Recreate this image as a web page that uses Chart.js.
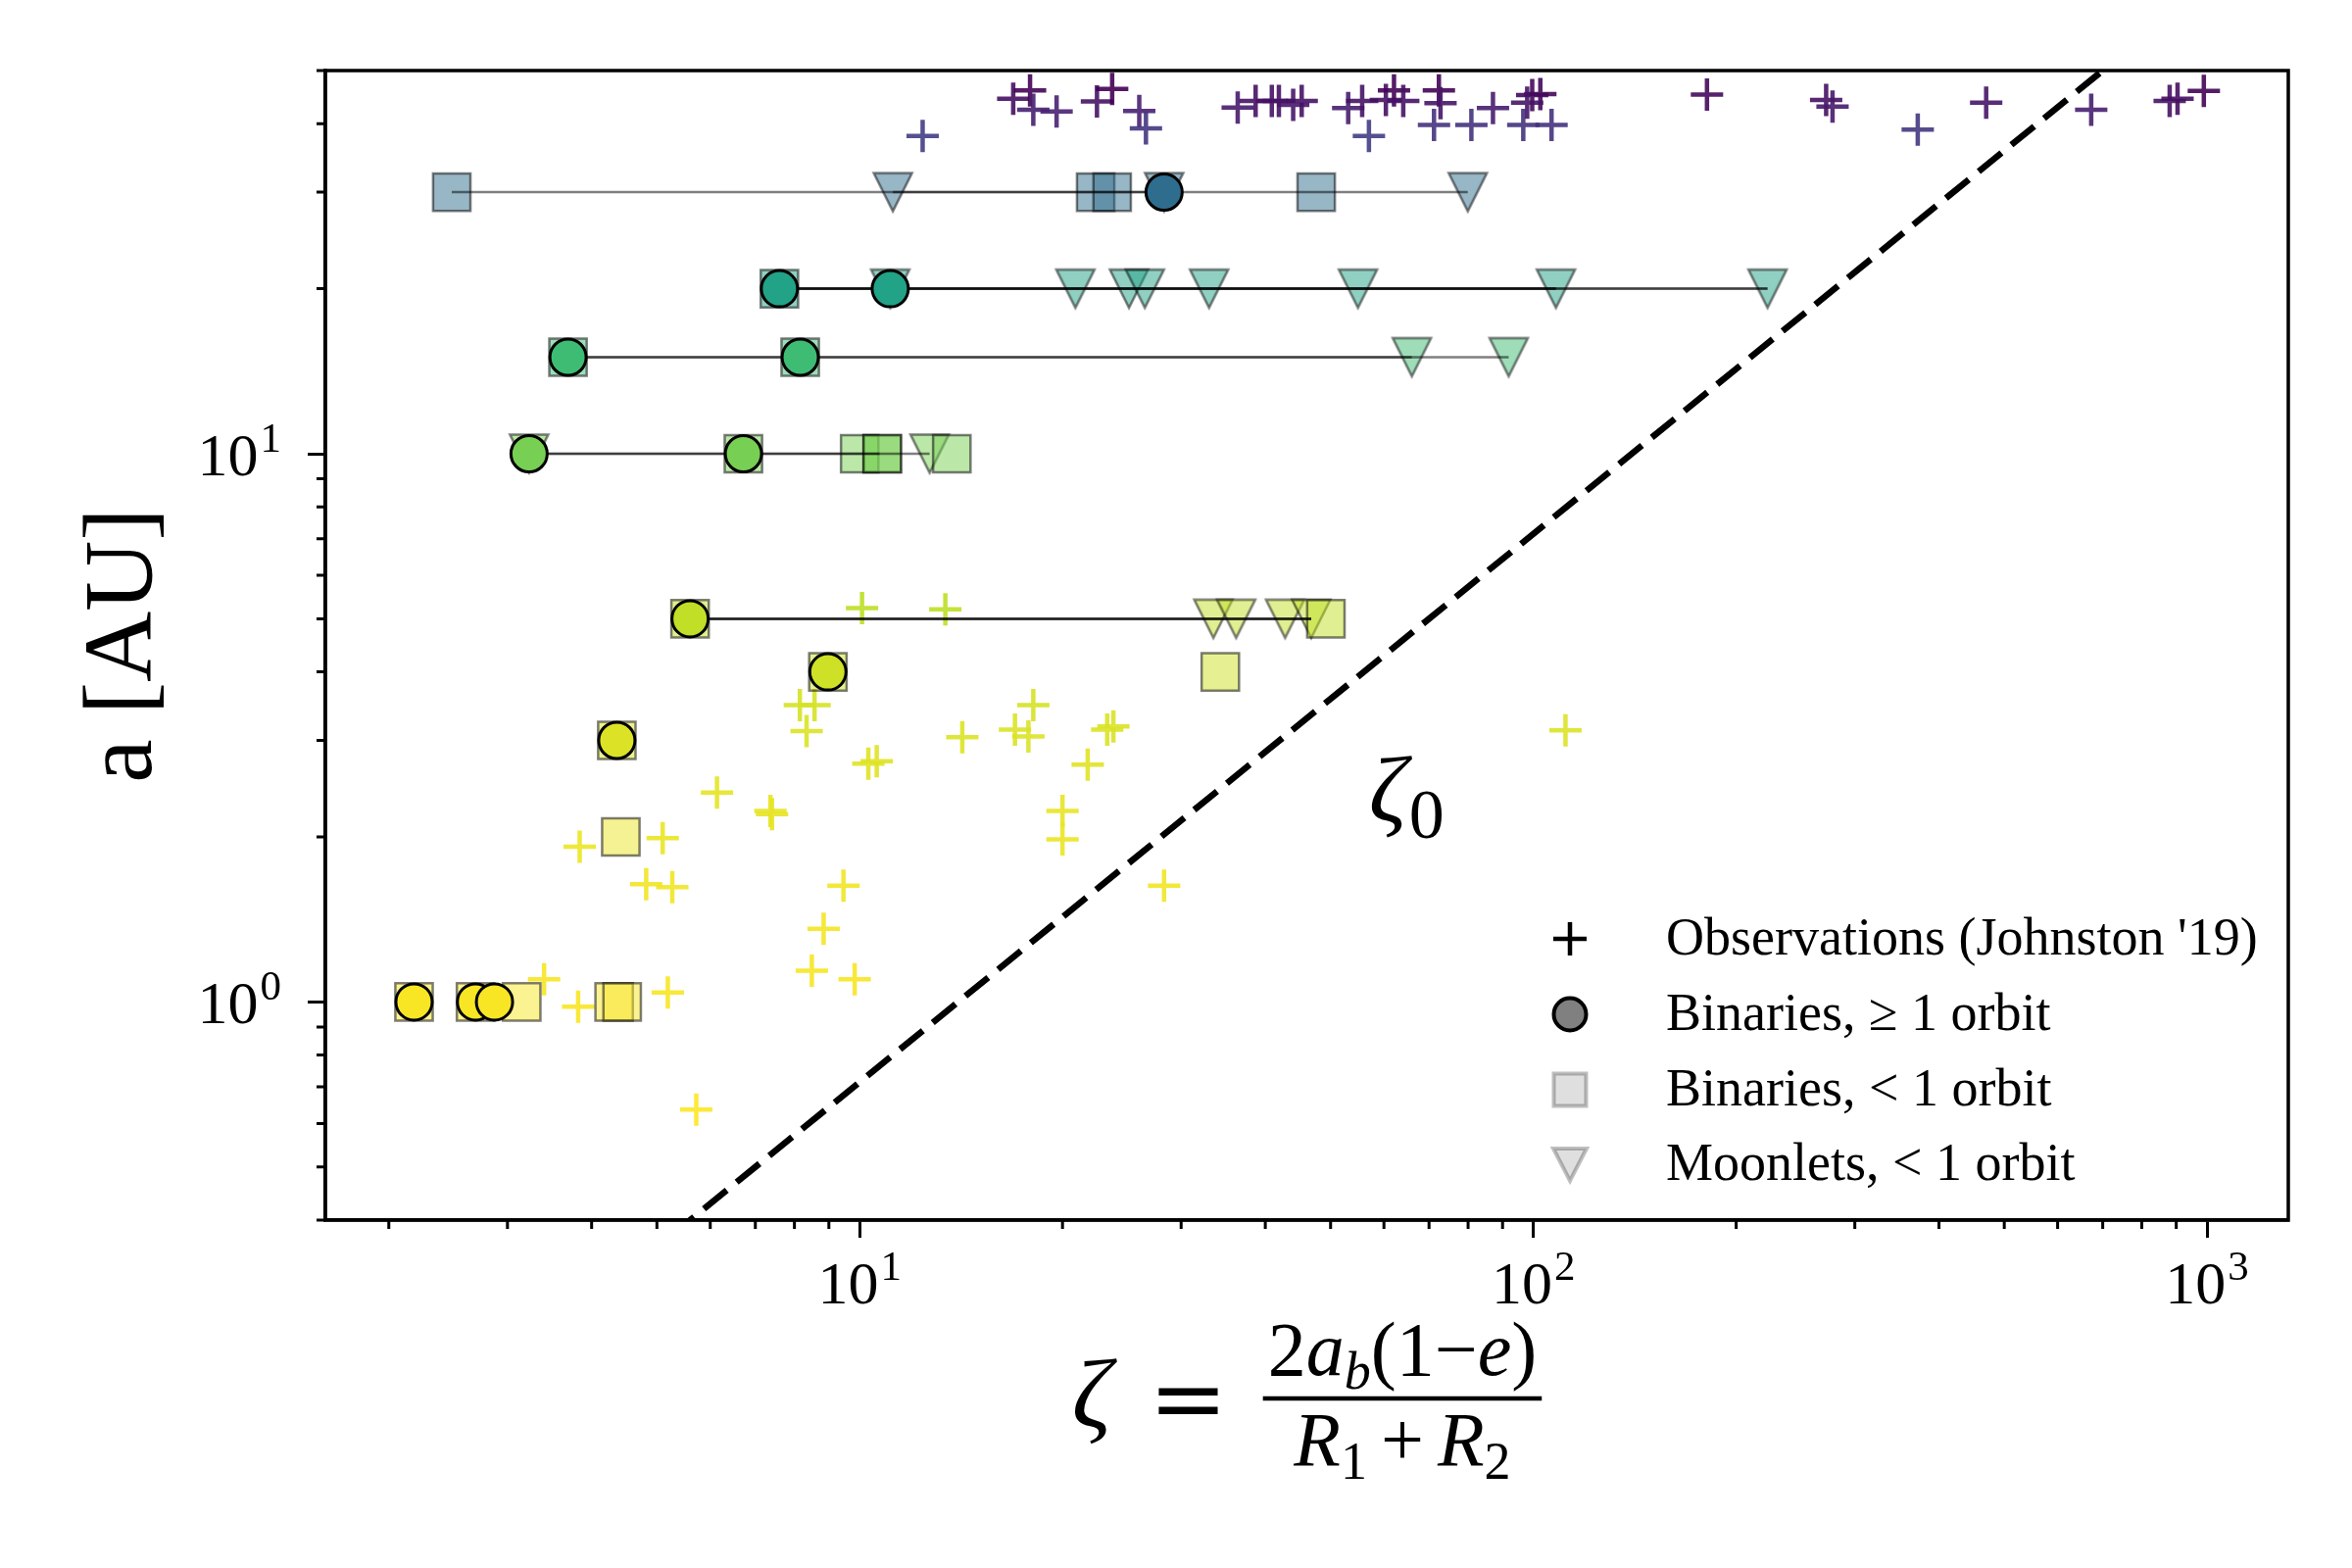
<!DOCTYPE html>
<html>
<head>
<meta charset="utf-8">
<script src="https://cdn.jsdelivr.net/npm/chart.js@4.4.1/dist/chart.umd.min.js"></script>
<style>
  html, body { margin: 0; padding: 0; background: #fff; }
  #wrap { width: 2400px; height: 1600px; }
  canvas { width: 2400px; height: 1600px; }
</style>
</head>
<body>
<div id="wrap"><canvas id="chart" width="2400" height="1600"></canvas></div>
<script>
// observed systems (Johnston '19): zeta and a [AU]
const obsZeta = [12.4, 16.9, 17.9, 18.1, 19.6, 22.5, 23.7, 26.0, 26.6, 36.4,
                 38.7, 40.9, 41.9, 44.0, 45.3, 53.1, 55.7, 57.0, 60.4, 62.1,
                 64.1, 72.4, 72.8, 71.2, 80.9, 87.1, 96.6, 99.6, 102.4, 97.9,
                 106.4, 181, 272, 278, 372, 470, 673, 880, 904, 989,
                 3.84, 5.10, 4.82, 5.27, 3.40, 3.82, 5.19, 5.72,
                 10.08, 13.4, 8.15, 8.57, 8.34, 18.1, 14.2, 17.0, 17.8, 23.3,
                 23.8, 21.8, 10.3, 10.6, 6.14, 7.37, 7.41, 20.0, 20.0, 28.3,
                 9.46, 8.84, 8.49, 9.83, 111.6];
const obsA = [38.0, 44.4, 46.0, 42.4, 42.1, 43.9, 46.3, 42.2, 39.2, 42.8,
              44.0, 44.0, 44.0, 43.3, 44.0, 42.7, 44.0, 38.0, 44.2, 46.0,
              44.0, 46.0, 43.6, 39.8, 39.8, 42.7, 39.8, 45.1, 45.3, 43.7,
              39.8, 45.2, 44.2, 43.0, 39.0, 43.7, 42.4, 44.0, 44.4, 45.9,
              1.92, 1.99, 1.64, 1.62, 1.10, 0.98, 1.04, 0.636,
              5.23, 5.20, 3.48, 3.48, 3.12, 3.48, 3.04, 3.14, 3.05, 3.14,
              3.18, 2.71, 2.72, 2.75, 2.41, 2.23, 2.20, 2.23, 1.98, 1.63,
              1.63, 1.36, 1.14, 1.10, 3.13];

// binaries, >= 1 orbit
const binOrbitZeta = [28.3, 7.6, 11.1, 3.69, 8.16, 3.23, 6.72, 5.6, 8.97, 4.36, 2.18, 2.69, 2.87];
const binOrbitA    = [30, 20, 20, 15, 15, 10, 10, 5, 4, 3, 1, 1, 1];

// binaries, < 1 orbit
const binShortZeta = [2.48, 22.4, 23.7, 47.6, 7.6, 3.69, 8.16, 6.72, 10.0, 10.8, 10.8, 13.7,
                      5.6, 49.2, 8.97, 34.3, 4.36, 4.42, 2.18, 2.69, 3.15, 4.32, 4.44];
const binShortA    = [30, 30, 30, 30, 20, 15, 15, 10, 10, 10, 10, 10,
                      5, 5, 4, 4, 3, 2, 1, 1, 1, 1, 1];

// moonlets, < 1 orbit
const moonZeta = [11.2, 28.3, 79.9, 11.1, 20.9, 25.1, 26.5, 33.0, 54.9, 108, 222.6,
                  66.0, 91.9, 3.23, 12.7, 33.5, 36.2, 42.8, 46.8];
const moonA    = [30, 30, 30, 20, 20, 20, 20, 20, 20, 20, 20,
                  15, 15, 10, 10, 5, 5, 5, 5];

// thin spans joining each run
const spanA     = [30, 30, 20, 20, 20, 20, 15, 15, 10, 10, 5, 5, 5];
const spanStart = [2.48, 11.2, 7.6, 7.6, 7.6, 7.6, 3.69, 3.69, 3.23, 3.23, 5.6, 5.6, 5.6];
const spanEnd   = [79.9, 28.3, 222.6, 222.6, 108, 108, 91.9, 66.0, 12.7, 10.7, 46.8, 46.8, 46.8];

const zeta0Ratio = 14;          // dashed line: zeta = 14 a
const zeta0A = [0.3, 60];
const zetaLimits = [1.61, 1320];
const aLimits = [0.4, 50];
const xDecades = [10, 100, 1000];
const yDecades = [1, 10];

const SERIF = '"Liberation Serif", "Times New Roman", serif';
Chart.defaults.font.family = SERIF;
Chart.defaults.color = '#000';

// viridis, reversed over a
const VIR = ['#440154', '#482475', '#414487', '#355f8d', '#2a788e', '#21918c',
             '#22a884', '#44bf70', '#7ad151', '#bddf26', '#fde725'];
const allA = obsA.concat(binOrbitA, binShortA, moonA);
const aMin = Math.min(...allA), aMax = Math.max(...allA);

function hex(h) {
  return [parseInt(h.slice(1, 3), 16), parseInt(h.slice(3, 5), 16), parseInt(h.slice(5, 7), 16)];
}
function colourFor(a, alpha) {
  let t = 1 - (a - aMin) / (aMax - aMin);
  t = Math.max(0, Math.min(1, t)) * 10;
  const i = Math.min(9, Math.floor(t)), f = t - i;
  const c0 = hex(VIR[i]), c1 = hex(VIR[i + 1]);
  const c = c0.map((v, k) => Math.round(v + (c1[k] - v) * f));
  return 'rgba(' + c[0] + ',' + c[1] + ',' + c[2] + ',' + alpha + ')';
}

// downward triangles like matplotlib 'v'
const triCache = {};
function triImage(a) {
  if (triCache[a]) return triCache[a];
  const c = document.createElement('canvas');
  c.width = 48; c.height = 48;
  const g = c.getContext('2d');
  g.beginPath();
  g.moveTo(4.5, 4.5); g.lineTo(43.5, 4.5); g.lineTo(24, 43.5); g.closePath();
  g.fillStyle = colourFor(a, 0.5);
  g.fill();
  g.lineWidth = 2.5;
  g.strokeStyle = 'rgba(0,0,0,0.5)';
  g.stroke();
  triCache[a] = c;
  return c;
}

function logTicks(lim) {
  const out = [];
  for (let e = Math.floor(Math.log10(lim[0])); e <= Math.ceil(Math.log10(lim[1])); e++) {
    for (let m = 1; m <= 9; m++) {
      const v = m * Math.pow(10, e);
      if (v >= lim[0] * 0.999 && v <= lim[1] * 1.001) out.push({ value: v, major: m === 1 });
    }
  }
  return out;
}

const pts = (xs, ys) => xs.map((x, i) => ({ x: x, y: ys[i] }));

const datasets = [
  {
    label: "Observations (Johnston '19)",
    data: pts(obsZeta, obsA),
    pointStyle: 'cross',
    pointRadius: 16.5,
    pointBorderWidth: 4.5,
    pointBorderColor: c => c.dataIndex === undefined ? '#000' : colourFor(obsA[c.dataIndex], 0.9),
    order: 5
  },
  {
    label: 'Binaries, \u2265 1 orbit',
    data: pts(binOrbitZeta, binOrbitA),
    pointStyle: 'circle',
    pointRadius: 18.5,
    pointBorderWidth: 3,
    pointBorderColor: '#000',
    pointBackgroundColor: c => c.dataIndex === undefined ? '#888' : colourFor(binOrbitA[c.dataIndex], 1),
    order: 2
  },
  {
    label: 'Binaries, < 1 orbit',
    data: pts(binShortZeta, binShortA),
    pointStyle: 'rect',
    pointRadius: 27,
    pointBorderWidth: 2.5,
    pointBorderColor: 'rgba(0,0,0,0.5)',
    pointBackgroundColor: c => c.dataIndex === undefined ? '#ddd' : colourFor(binShortA[c.dataIndex], 0.5),
    order: 4
  },
  {
    label: 'Moonlets, < 1 orbit',
    data: pts(moonZeta, moonA),
    pointStyle: c => c.dataIndex === undefined ? 'triangle' : triImage(moonA[c.dataIndex]),
    pointRadius: 20,
    order: 4
  },
  {
    label: 'zeta0',
    data: zeta0A.map(a => ({ x: a * zeta0Ratio, y: a })),
    showLine: true,
    pointRadius: 0,
    borderColor: '#000',
    borderWidth: 6.5,
    borderDash: [30, 13],
    clip: 0,
    order: 1
  }
];

spanA.forEach((a, i) => {
  datasets.push({
    label: 'span',
    data: [{ x: spanStart[i], y: a }, { x: spanEnd[i], y: a }],
    showLine: true,
    pointRadius: 0,
    borderColor: 'rgba(0,0,0,0.5)',
    borderWidth: 2.5,
    order: 3
  });
});

function powLabel(ctx, exp, x, base, align) {
  ctx.font = '62px ' + SERIF;
  const w1 = ctx.measureText('10').width;
  ctx.font = '43px ' + SERIF;
  const w2 = ctx.measureText(exp).width;
  const total = w1 + 2 + w2;
  const left = align === 'center' ? x - total / 2 : x - total;
  ctx.font = '62px ' + SERIF;
  ctx.fillText('10', left, base);
  ctx.font = '43px ' + SERIF;
  ctx.fillText(exp, left + w1 + 2, base - 24);
}

function runsWidth(ctx, runs) {
  let w = 0;
  runs.forEach(r => { ctx.font = r[1]; w += ctx.measureText(r[0]).width + 2 * (r[3] || 0); });
  return w;
}
function drawRuns(ctx, runs, x, base) {
  runs.forEach(r => {
    const pad = r[3] || 0;
    ctx.font = r[1];
    x += pad;
    ctx.fillText(r[0], x, base + r[2]);
    x += ctx.measureText(r[0]).width + pad;
  });
}

const decorations = {
  id: 'decorations',
  afterDraw(chart) {
    const { ctx, chartArea: ca, scales } = chart;
    const xs = scales.x, ys = scales.y;
    ctx.save();
    ctx.fillStyle = '#000';
    ctx.strokeStyle = '#000';

    // minor ticks
    ctx.lineWidth = 3;
    ctx.beginPath();
    xs.ticks.forEach(t => {
      if (t.major) return;
      const px = xs.getPixelForValue(t.value);
      ctx.moveTo(px, ca.bottom); ctx.lineTo(px, ca.bottom + 9);
    });
    ys.ticks.forEach(t => {
      if (t.major) return;
      const py = ys.getPixelForValue(t.value);
      ctx.moveTo(ca.left, py); ctx.lineTo(ca.left - 9, py);
    });
    ctx.stroke();

    // frame
    ctx.lineWidth = 3.5;
    ctx.strokeRect(ca.left, ca.top, ca.right - ca.left, ca.bottom - ca.top);

    // tick labels
    ctx.textAlign = 'left';
    ctx.textBaseline = 'alphabetic';
    xDecades.forEach(v => {
      powLabel(ctx, String(Math.round(Math.log10(v))), xs.getPixelForValue(v), ca.bottom + 85, 'center');
    });
    yDecades.forEach(v => {
      powLabel(ctx, String(Math.round(Math.log10(v))), ca.left - 45, ys.getPixelForValue(v) + 22, 'right');
    });

    // zeta_0 label
    const zx = xs.getPixelForValue(57), zy = ys.getPixelForValue(2.14);
    ctx.font = 'italic 96px ' + SERIF;
    ctx.fillText('\u03B6', zx, zy);
    const zw = ctx.measureText('\u03B6').width;
    ctx.font = '72px ' + SERIF;
    ctx.fillText('0', zx + zw + 2, zy + 17);

    // x axis title: zeta = 2 a_b (1 - e) / (R1 + R2)
    const big = '78px ' + SERIF, bigI = 'italic 78px ' + SERIF;
    const sub = '54px ' + SERIF, subI = 'italic 54px ' + SERIF;
    const num = [['2', big, 0], ['a', bigI, 0], ['b', subI, 14], ['(', big, 0], ['1', big, 0],
                 ['\u2212', big, 0], ['e', bigI, 0], [')', big, 0]];
    const den = [['R', bigI, 0], ['1', sub, 14], ['+', big, 0, 14], ['R', bigI, 0], ['2', sub, 14]];
    const nw = runsWidth(ctx, num), dw = runsWidth(ctx, den);
    const barW = Math.max(nw, dw) + 10;
    ctx.font = 'italic 100px ' + SERIF;
    const zetaW = ctx.measureText('\u03B6').width;
    ctx.font = '96px "DejaVu Serif", serif';
    const eqW = ctx.measureText('=').width;
    const total = zetaW + 38 + eqW + 36 + barW;
    let left = (ca.left + ca.right) / 2 - total / 2;
    const barY = ca.bottom + 182;
    ctx.font = 'italic 100px ' + SERIF;
    ctx.fillText('\u03B6', left, barY + 29);
    left += zetaW + 38;
    ctx.font = '96px "DejaVu Serif", serif';
    ctx.fillText('=', left, barY + 33);
    left += eqW + 36;
    ctx.fillRect(left, barY - 2.25, barW, 4.5);
    drawRuns(ctx, num, left + (barW - nw) / 2, barY - 24);
    drawRuns(ctx, den, left + (barW - dw) / 2, barY + 68);

    // legend
    const lx = ca.right - 733, tx = ca.right - 635;
    const rows = [ca.bottom - 287, ca.bottom - 210, ca.bottom - 133, ca.bottom - 57];
    ctx.lineWidth = 4.5;
    ctx.strokeStyle = '#000';
    ctx.beginPath();
    ctx.moveTo(lx - 17, rows[0]); ctx.lineTo(lx + 17, rows[0]);
    ctx.moveTo(lx, rows[0] - 17); ctx.lineTo(lx, rows[0] + 17);
    ctx.stroke();

    ctx.beginPath();
    ctx.arc(lx, rows[1], 16.5, 0, Math.PI * 2);
    ctx.fillStyle = '#808080'; ctx.fill();
    ctx.lineWidth = 4; ctx.strokeStyle = '#000'; ctx.stroke();

    ctx.fillStyle = 'rgba(128,128,128,0.25)';
    ctx.strokeStyle = 'rgba(0,0,0,0.25)';
    ctx.lineWidth = 4;
    ctx.beginPath();
    ctx.rect(lx - 16.5, rows[2] - 16.5, 33, 33);
    ctx.fill(); ctx.stroke();

    ctx.beginPath();
    ctx.moveTo(lx - 17, rows[3] - 16); ctx.lineTo(lx + 17, rows[3] - 16); ctx.lineTo(lx, rows[3] + 17);
    ctx.closePath();
    ctx.fill(); ctx.stroke();

    ctx.fillStyle = '#000';
    ctx.font = '54px ' + SERIF;
    chart.data.datasets.slice(0, 4).forEach((d, i) => {
      ctx.fillText(d.label, tx, rows[i] + 16);
    });

    ctx.restore();
  }
};

new Chart(document.getElementById('chart'), {
  type: 'scatter',
  data: { datasets: datasets },
  options: {
    responsive: false,
    devicePixelRatio: 1,
    animation: false,
    events: [],
    layout: { padding: { top: 72, right: 65, bottom: 0, left: 0 } },
    plugins: { legend: { display: false }, tooltip: { enabled: false } },
    scales: {
      x: {
        type: 'logarithmic',
        position: 'bottom',
        min: zetaLimits[0],
        max: zetaLimits[1],
        afterBuildTicks: s => { s.ticks = logTicks(zetaLimits); },
        afterFit: s => { s.height = 355; },
        ticks: { display: false },
        grid: {
          display: true, drawOnChartArea: false, drawTicks: true,
          tickLength: 18, tickWidth: 3,
          tickColor: c => (c.tick && c.tick.major) ? '#000' : 'rgba(0,0,0,0)'
        },
        border: { display: true, color: '#000', width: 3.5 }
      },
      y: {
        type: 'logarithmic',
        position: 'left',
        min: aLimits[0],
        max: aLimits[1],
        afterBuildTicks: s => { s.ticks = logTicks(aLimits); },
        afterFit: s => { s.width = 332; },
        ticks: { display: false },
        grid: {
          display: true, drawOnChartArea: false, drawTicks: true,
          tickLength: 18, tickWidth: 3,
          tickColor: c => (c.tick && c.tick.major) ? '#000' : 'rgba(0,0,0,0)'
        },
        border: { display: true, color: '#000', width: 3.5 },
        title: {
          display: true,
          text: 'a [AU]',
          color: '#000',
          font: { family: SERIF, size: 100 },
          padding: { top: 68, bottom: 0 }
        }
      }
    }
  },
  plugins: [decorations]
});
</script>
</body>
</html>
